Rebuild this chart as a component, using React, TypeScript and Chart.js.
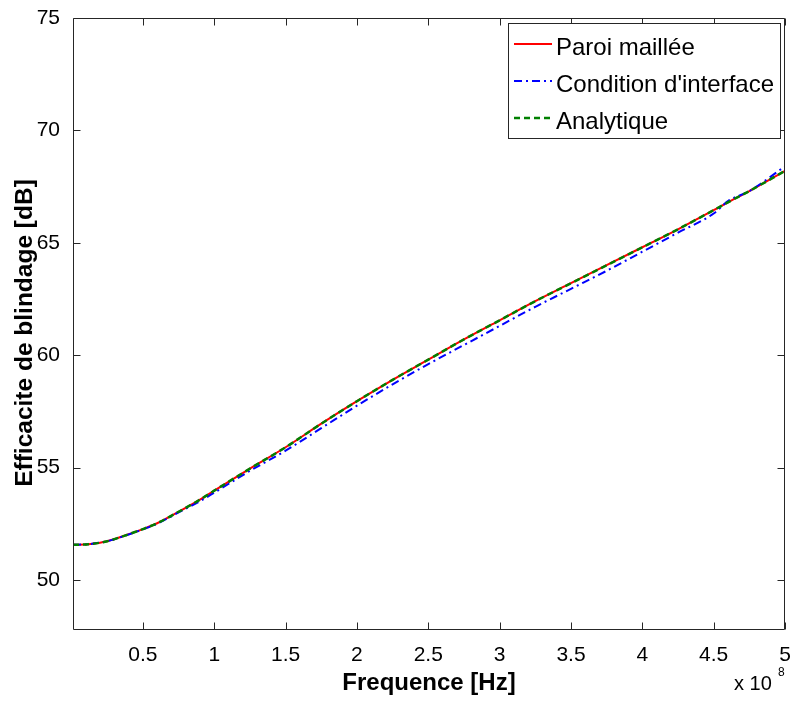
import React, { useEffect, useRef } from "react";
import { Chart, registerables } from "chart.js";

Chart.register(...registerables);

// Frequencies in units of 1e8 Hz
const freq = [0.01, 0.12, 0.25, 0.4, 0.5, 0.6, 0.75, 0.9, 1.0, 1.25, 1.5, 1.75, 2.0, 2.25, 2.5, 2.75, 3.0, 3.25, 3.5, 3.75, 4.0, 4.25, 4.5, 4.6, 4.75, 5.0];
const paroiMaillee = [51.56, 51.59, 51.72, 52.03, 52.26, 52.52, 53.03, 53.57, 53.97, 54.95, 55.9, 56.95, 57.95, 58.9, 59.8, 60.7, 61.55, 62.4, 63.2, 64.0, 64.8, 65.6, 66.45, 66.8, 67.3, 68.2];
const conditionInterface = [51.56, 51.59, 51.72, 52.02, 52.25, 52.5, 53.0, 53.5, 53.88, 54.85, 55.75, 56.75, 57.75, 58.7, 59.6, 60.45, 61.3, 62.15, 62.95, 63.75, 64.6, 65.45, 66.3, 66.85, 67.3, 68.4];
const analytique = [51.56, 51.59, 51.72, 52.03, 52.26, 52.52, 53.03, 53.57, 53.97, 54.95, 55.9, 56.95, 57.95, 58.9, 59.8, 60.7, 61.55, 62.4, 63.2, 64.0, 64.8, 65.6, 66.45, 66.8, 67.3, 68.2];

const xTicks = [0.5, 1, 1.5, 2, 2.5, 3, 3.5, 4, 4.5, 5];
const xTickLabels = ["0.5", "1", "1.5", "2", "2.5", "3", "3.5", "4", "4.5", "5"];
const yTicks = [50, 55, 60, 65, 70, 75];
const yTickLabels = ["50", "55", "60", "65", "70", "75"];

const seriesNames = ["Paroi maillée", "Condition d'interface", "Analytique"];
const xTitle = "Frequence [Hz]";
const yTitle = "Efficacite de blindage [dB]";

const FONT = "'Liberation Sans', Arial, Helvetica, sans-serif";

const framePlugin = {
  id: "matlabFrame",
  afterDraw(chart: any) {
    const ctx = chart.ctx;
    const a = chart.chartArea;
    const xs = chart.scales.x;
    const ys = chart.scales.y;
    ctx.save();
    ctx.strokeStyle = "#262626";
    ctx.lineWidth = 1;
    const L = Math.round(a.left) + 0.5;
    const R = Math.round(a.right) - 0.5;
    const T = Math.round(a.top) + 0.5;
    const B = Math.round(a.bottom) - 0.5;
    ctx.beginPath();
    ctx.rect(L, T, R - L, B - T);
    ctx.stroke();
    const tl = 7;
    ctx.beginPath();
    xTicks.forEach((v) => {
      const px = Math.round(xs.getPixelForValue(v * 1e8)) + 0.5;
      ctx.moveTo(px, B);
      ctx.lineTo(px, B - tl);
      ctx.moveTo(px, T);
      ctx.lineTo(px, T + tl);
    });
    yTicks.forEach((v) => {
      const py = Math.round(ys.getPixelForValue(v)) + 0.5;
      ctx.moveTo(L, py);
      ctx.lineTo(L + tl, py);
      ctx.moveTo(R, py);
      ctx.lineTo(R - tl, py);
    });
    ctx.stroke();

    // axis titles
    ctx.fillStyle = "#000";
    ctx.font = `bold 24px ${FONT}`;
    ctx.textAlign = "center";
    ctx.textBaseline = "alphabetic";
    ctx.fillText(xTitle, (a.left + a.right) / 2, 690);
    ctx.save();
    ctx.translate(32, 333);
    ctx.rotate(-Math.PI / 2);
    ctx.font = `bold 24.5px ${FONT}`;
    ctx.fillText(yTitle, 0, 0);
    ctx.restore();

    // exponent
    ctx.textAlign = "left";
    ctx.font = `20px ${FONT}`;
    ctx.fillText("x 10", 734, 690);
    ctx.font = `12px ${FONT}`;
    ctx.fillText("8", 778, 676);

    // legend
    const bx = 508.5, by = 23.5, bw = 272, bh = 115;
    ctx.fillStyle = "#fff";
    ctx.fillRect(bx, by, bw, bh);
    ctx.strokeStyle = "#262626";
    ctx.strokeRect(bx, by, bw, bh);
    const rows = [44, 81, 118];
    chart.data.datasets.forEach((ds: any, i: number) => {
      const y = rows[i];
      ctx.save();
      ctx.strokeStyle = ds.borderColor;
      ctx.lineWidth = ds.borderWidth;
      ctx.setLineDash(ds.borderDash || []);
      ctx.beginPath();
      ctx.moveTo(514, y);
      ctx.lineTo(552, y);
      ctx.stroke();
      ctx.restore();
      ctx.fillStyle = "#000";
      ctx.font = `24px ${FONT}`;
      ctx.textBaseline = "alphabetic";
      ctx.textAlign = "left";
      ctx.fillText(ds.label, 556, y + 11);
    });
    ctx.restore();
  },
};

export default function App() {
  const ref = useRef<HTMLCanvasElement>(null);
  useEffect(() => {
    const mk = (vals: number[]) => freq.map((f, i) => ({ x: f * 1e8, y: vals[i] }));
    const chart = new Chart(ref.current as HTMLCanvasElement, {
      type: "line",
      data: {
        datasets: [
          { label: seriesNames[0], data: mk(paroiMaillee), borderColor: "#ff0000", borderWidth: 2, order: 2, pointRadius: 0, cubicInterpolationMode: "monotone", fill: false },
          { label: seriesNames[1], data: mk(conditionInterface), borderColor: "#0000ff", borderWidth: 2, borderDash: [8, 4, 2, 4], order: 1, pointRadius: 0, cubicInterpolationMode: "monotone", fill: false },
          { label: seriesNames[2], data: mk(analytique), borderColor: "#008000", borderWidth: 2.5, borderDash: [6, 4], order: 0, pointRadius: 0, cubicInterpolationMode: "monotone", fill: false },
        ],
      },
      options: {
        responsive: false,
        animation: false,
        devicePixelRatio: 1,
        layout: { padding: { top: 18, right: 8, left: 0, bottom: 0 } },
        plugins: { legend: { display: false }, tooltip: { enabled: false } },
        scales: {
          x: {
            type: "linear",
            min: 1e6,
            max: 5e8,
            afterBuildTicks: (s: any) => {
              s.ticks = xTicks.map((v) => ({ value: v * 1e8 }));
            },
            afterFit: (s: any) => {
              s.height = 72;
              s.paddingRight = 0;
              s.paddingLeft = 0;
            },
            ticks: {
              autoSkip: false,
              maxRotation: 0,
              padding: 5,
              color: "#000",
              font: { family: FONT, size: 21 },
              callback: (_v: any, i: number) => xTickLabels[i],
            },
            grid: { display: false },
            border: { display: false },
          },
          y: {
            type: "linear",
            min: 47.77,
            max: 75,
            afterBuildTicks: (s: any) => {
              s.ticks = yTicks.map((v) => ({ value: v }));
            },
            afterFit: (s: any) => {
              s.width = 73;
              s.paddingTop = 0;
              s.paddingBottom = 0;
            },
            ticks: {
              autoSkip: false,
              padding: 5,
              color: "#000",
              font: { family: FONT, size: 21 },
              callback: (_v: any, i: number) => yTickLabels[i],
            },
            grid: { display: false },
            border: { display: false },
          },
        },
      } as any,
      plugins: [framePlugin],
    });
    return () => chart.destroy();
  }, []);
  return (
    <div style={{ position: "absolute", left: 0, top: 0, width: 793, height: 702, background: "#fff" }}>
      <canvas ref={ref} width={793} height={702} style={{ display: "block" }} />
    </div>
  );
}
